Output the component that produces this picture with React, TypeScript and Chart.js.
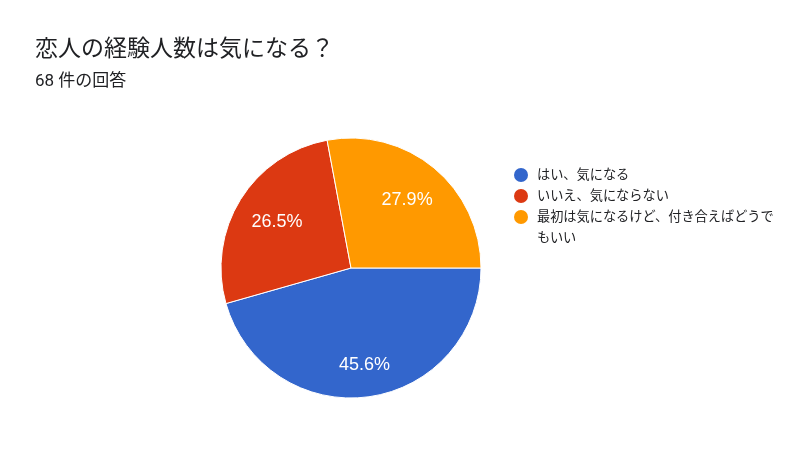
import React, { useEffect, useRef } from "react";
import { Chart, registerables, Plugin } from "chart.js";

Chart.register(...registerables);

const title = "恋人の経験人数は気になる？";
const subtitle = "68 件の回答";
const labels = [
  "はい、気になる",
  "いいえ、気にならない",
  "最初は気になるけど、付き合えばどうでもいい",
];
const counts = [31, 18, 19];
const colors = ["#3366cc", "#dc3912", "#ff9900"];

const textFont = "Roboto, 'Noto Sans CJK JP', sans-serif";

// draws the percentage inside each slice, like Google Forms does
const sliceLabels: Plugin<"pie"> = {
  id: "sliceLabels",
  afterDatasetsDraw(chart) {
    const ctx = chart.ctx;
    const meta = chart.getDatasetMeta(0);
    const values = chart.data.datasets[0].data as number[];
    const total = values.reduce((a, b) => a + b, 0);
    ctx.save();
    ctx.fillStyle = "#ffffff";
    ctx.font = "18px Arial, 'Liberation Sans', sans-serif";
    ctx.textAlign = "center";
    ctx.textBaseline = "middle";
    meta.data.forEach((arc, i) => {
      const { x, y, startAngle, endAngle, outerRadius } = arc.getProps(
        ["x", "y", "startAngle", "endAngle", "outerRadius"],
        true
      ) as any;
      const frac = values[i] / total;
      const mid = (startAngle + endAngle) / 2;
      const r = outerRadius * (0.55 + 0.45 * frac);
      ctx.fillText(
        (frac * 100).toFixed(1) + "%",
        x + Math.cos(mid) * r,
        y + Math.sin(mid) * r
      );
    });
    ctx.restore();
  },
};

const App: React.FC = () => {
  const canvasRef = useRef<HTMLCanvasElement | null>(null);
  const chartRef = useRef<Chart<"pie"> | null>(null);

  useEffect(() => {
    if (!canvasRef.current) return;
    if (chartRef.current) chartRef.current.destroy();
    chartRef.current = new Chart(canvasRef.current, {
      type: "pie",
      data: {
        labels: labels,
        datasets: [
          {
            data: counts,
            backgroundColor: colors,
            borderColor: "#ffffff",
            borderWidth: 1,
            hoverOffset: 0,
          },
        ],
      },
      options: {
        animation: false,
        responsive: true,
        maintainAspectRatio: false,
        rotation: 90,
        radius: 130,
        layout: {
          padding: { top: 128, bottom: 41, left: 0, right: 98 },
        },
        plugins: {
          legend: { display: false },
          tooltip: { enabled: false },
        },
      },
      plugins: [sliceLabels],
    });
    return () => {
      if (chartRef.current) {
        chartRef.current.destroy();
        chartRef.current = null;
      }
    };
  }, []);

  return (
    <div
      style={{
        position: "fixed",
        left: 0,
        top: 0,
        width: "800px",
        height: "449px",
        background: "#ffffff",
        fontFamily: textFont,
        color: "#202124",
      }}
    >
      <div style={{ position: "absolute", left: 0, top: 0, width: "800px", height: "449px" }}>
        <canvas ref={canvasRef}></canvas>
      </div>
      <div
        style={{
          position: "absolute",
          left: "35px",
          top: "37px",
          fontSize: "23px",
          lineHeight: "23px",
          whiteSpace: "nowrap",
        }}
      >
        {title}
      </div>
      <div
        style={{
          position: "absolute",
          left: "35px",
          top: "72px",
          fontSize: "17px",
          lineHeight: "17px",
          whiteSpace: "nowrap",
        }}
      >
        {subtitle}
      </div>
      <div style={{ position: "absolute", left: "514px", top: "164px" }}>
        {labels.map((label, i) => (
          <div key={label} style={{ display: "flex", alignItems: "flex-start" }}>
            <span
              style={{
                width: "14px",
                height: "14px",
                borderRadius: "50%",
                background: colors[i],
                marginTop: "4px",
                marginRight: "9px",
                flexShrink: 0,
              }}
            ></span>
            <span
              style={{
                width: "242px",
                fontSize: "13.2px",
                lineHeight: "21px",
                color: "#202124",
              }}
            >
              {label}
            </span>
          </div>
        ))}
      </div>
    </div>
  );
};

export default App;
